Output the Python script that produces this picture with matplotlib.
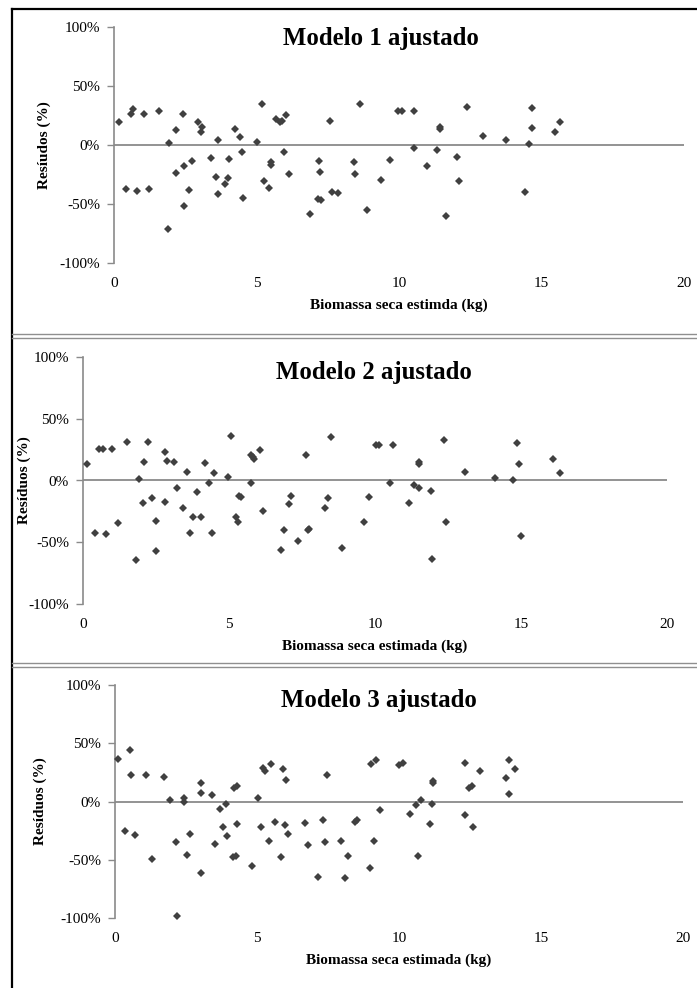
import matplotlib
matplotlib.use("Agg")
import matplotlib.pyplot as plt
from matplotlib.lines import Line2D

plt.rcParams["font.family"] = ["Liberation Serif", "DejaVu Serif"]

# ---- residuals (%) against estimated dry biomass (kg) ----
x1 = [0.18, 0.42, 0.58, 0.68, 0.80, 1.04, 1.24, 1.59, 1.91, 1.94, 2.18, 2.18,
      2.42, 2.46, 2.44, 2.62, 2.75, 2.95, 3.10, 3.06, 3.42, 3.59, 3.65, 3.64,
      3.88, 4.00, 4.02, 4.23, 4.43, 4.50, 4.51, 5.00, 5.18, 5.27, 5.45, 5.50,
      5.52, 5.68, 5.81, 5.88, 6.04, 5.96, 6.15, 6.89, 7.18, 7.23, 7.17, 7.26,
      7.59, 7.65, 7.86, 8.43, 8.47, 8.63, 8.88, 9.38, 9.70, 9.98, 10.10, 10.53,
      10.53, 10.98, 11.33, 11.43, 11.43, 11.66, 12.04, 12.12, 12.39, 12.96,
      13.75, 14.43, 14.56, 14.65, 14.65, 15.47, 15.65]
r1 = [19.8, -37.3, 26.0, 30.5, -39.0, 26.0, -37.3, 28.8, -70.9, 1.4, 12.4, -23.7,
      26.3, -17.5, -51.4, -38.1, -13.3, 19.2, 15.0, 11.0, -11.0, -27.1, 4.5, -41.2,
      -33.3, -28.3, -11.6, 13.6, 6.8, -6.2, -44.9, 2.8, 35.0, -30.5, -36.4, -14.7,
      -16.7, 21.8, 19.2, 20.3, 25.1, -6.2, -24.3, -58.2, -13.6, -22.6, -45.5, -46.6,
      20.6, -40.1, -41.0, -14.7, -24.9, 34.5, -55.4, -29.9, -12.4, 29.1, 29.1, 29.1,
      -2.8, -17.5, -4.5, 15.0, 13.3, -60.2, -9.9, -30.8, 31.9, 7.3,
      4.0, -39.8, 1.1, 31.1, 14.1, 10.7, 19.2]

x2 = [0.15, 0.40, 0.54, 0.69, 0.79, 1.01, 1.19, 1.52, 1.81, 1.92, 2.06, 2.09,
      2.24, 2.38, 2.49, 2.49, 2.80, 2.82, 2.89, 3.10, 3.23, 3.43, 3.57, 3.68,
      3.76, 3.90, 4.03, 4.18, 4.31, 4.43, 4.47, 4.96, 5.07, 5.25, 5.31, 5.34,
      5.42, 5.76, 5.76, 5.83, 5.87, 6.06, 6.17, 6.79, 6.89, 7.04, 7.11, 7.37,
      7.62, 7.69, 7.74, 8.29, 8.38, 8.50, 8.86, 9.61, 9.78, 10.05, 10.15, 10.63,
      10.50, 11.16, 11.34, 11.49, 11.49, 11.49, 11.92, 11.94, 12.37, 12.44,
      13.09, 14.12, 14.72, 14.87, 14.92, 15.01, 16.10, 16.32]
r2 = [13.5, -42.2, 25.9, 25.9, -43.2, 25.9, -34.6, 30.8, -64.6, 1.6, -18.4, 15.1,
      30.8, -14.3, -32.4, -56.8, 23.0, -17.3, 15.9, 14.6, -5.9, -21.9, 6.5, -42.2,
      -29.5, -9.5, -29.5, 13.8, -2.2, -42.2, 5.9, 3.2, 36.2, -29.2, -33.8, -12.4,
      -13.5, -2.4, 20.8, 18.9, 17.3, 25.1, -25.1, -56.5, -40.0, -18.9, -12.2, -49.2,
      20.5, -40.3, -38.9, -22.2, -13.8, 35.4, -54.6, -33.8, -13.2, 29.0, 28.4, 28.4,
      -2.2, -18.6, -3.8, -5.9, 15.1, 13.0, -8.6, -63.8, 32.4, -33.8,
      6.5, 1.9, 0.3, 30.5, 13.2, -44.6, 17.3, 6.2]

x3 = [0.12, 0.35, 0.53, 0.58, 0.71, 1.08, 1.30, 1.74, 1.94, 2.15, 2.17, 2.42,
      2.43, 2.54, 2.64, 3.04, 3.04, 3.04, 3.43, 3.53, 3.68, 3.80, 3.91, 3.95,
      4.16, 4.25, 4.20, 4.28, 4.29, 4.84, 5.02, 5.15, 5.21, 5.28, 5.41, 5.50,
      5.65, 5.85, 5.91, 5.99, 6.03, 6.09, 6.69, 6.78, 7.14, 7.34, 7.38, 7.46,
      7.96, 8.11, 8.19, 8.46, 8.52, 8.97, 9.01, 9.20, 9.11, 9.34, 10.01, 10.14,
      10.37, 10.61, 10.78, 10.68, 11.08, 11.17, 11.18, 11.18, 12.31, 12.31,
      12.48, 12.57, 12.62, 12.84, 13.76, 13.89, 13.89, 14.10]
r3 = [36.7, -24.9, 44.1, 22.9, -28.7, 22.9, -49.6, 21.2, 0.9, -35.0, -98.6, 2.9,
      0.0, -45.6, -27.8, 15.8, 7.2, -61.3, 5.7, -36.4, -6.6, -22.1, -2.0, -29.8,
      -47.8, -46.7, 11.7, 13.2, -19.5, -55.3, 3.2, -21.8, 28.7, 26.6, -33.5, 32.1,
      -17.8, -47.3, 27.5, -20.6, 18.6, -28.1, -18.6, -37.2, -64.7, -15.5, -35.0, 22.9,
      -33.8, -65.3, -47.0, -17.2, -15.5, -57.3, 31.8, 35.8, -33.8, -7.4, 31.5, 32.7,
      -10.6, -3.4, 0.9, -47.0, -19.2, -2.0, 17.5, 15.5, 33.2, -12.0,
      11.7, 13.2, -21.8, 26.6, 20.3, 35.8, 6.3, 28.1]

titles = ["Modelo 1 ajustado", "Modelo 2 ajustado", "Modelo 3 ajustado"]
xlabels = ["Biomassa seca estimda (kg)", "Biomassa seca estimada (kg)",
           "Biomassa seca estimada (kg)"]
ylabels = ["Resíudos (%)", "Resíduos (%)", "Resíduos (%)"]
xticks = [0, 5, 10, 15, 20]
yticks = [-100, -50, 0, 50, 100]
ytick_labels = ["-100%", "-50%", "0%", "50%", "100%"]

W, H = 697, 988
fig = plt.figure(figsize=(W / 100, H / 100), dpi=100)

# axes rectangles in pixels: (left, right, top=+100%, bottom=-100%)
boxes = [(114, 684, 27, 263), (83, 667, 357, 604), (115, 683, 685, 918)]
title_y = [38, 372, 700]
ylabel_x = [44, 24, 40]
title_x = [381, 374, 379]

GRAY = "#8a8a8a"
MARK = "#404040"

for i, (xs, rs) in enumerate([(x1, r1), (x2, r2), (x3, r3)]):
    l, r, t, b = boxes[i]
    ax = fig.add_axes([l / W, 1 - b / H, (r - l) / W, (b - t) / H])
    ax.set_xlim(0, 20)
    ax.set_ylim(-100, 100)
    ax.axhline(0, color=GRAY, lw=1.3, zorder=1)
    ax.plot(xs, rs, linestyle="none", marker="D", ms=4.2, color=MARK,
            markeredgewidth=0, zorder=3, clip_on=False)
    for s in ["top", "right", "bottom"]:
        ax.spines[s].set_visible(False)
    ax.spines["left"].set_color(GRAY)
    ax.spines["left"].set_linewidth(1.2)
    ax.set_yticks(yticks)
    ax.set_yticklabels(ytick_labels)
    ax.set_xticks(xticks)
    ax.tick_params(axis="y", direction="out", length=5, width=1.0, color=GRAY,
                   labelsize=11, pad=5)
    ax.tick_params(axis="x", length=0, labelsize=11, pad=10)
    ax.set_facecolor("none")
    fig.text(title_x[i] / W, 1 - title_y[i] / H, titles[i], ha="center",
             va="center", fontsize=17.8, fontweight="bold")
    fig.text((l + r) / 2 / W, 1 - (b + 42) / H, xlabels[i], ha="center",
             va="center", fontsize=11, fontweight="bold")
    fig.text(ylabel_x[i] / W, 1 - (t + b) / 2 / H, ylabels[i], ha="center",
             va="center", rotation=90, fontsize=11, fontweight="bold")

# outer frame (left and top) and double separators between panels
fig.add_artist(Line2D([12 / W, 12 / W], [0, 1 - 9 / H], color="black", lw=1.6,
                      transform=fig.transFigure))
fig.add_artist(Line2D([12 / W, 1], [1 - 9 / H, 1 - 9 / H], color="black", lw=1.6,
                      transform=fig.transFigure))
for y in [334, 338, 663, 666.5]:
    fig.add_artist(Line2D([12 / W, 1], [1 - y / H, 1 - y / H], color="#8f8f8f",
                          lw=1.0, transform=fig.transFigure))

fig.savefig("out.png", dpi=100)
